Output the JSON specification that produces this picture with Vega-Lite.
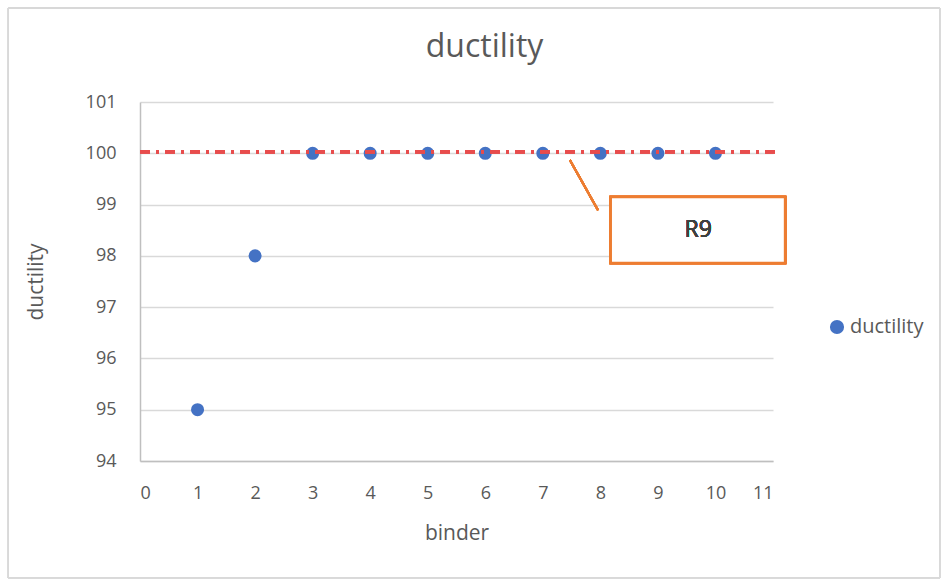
{
  "$schema": "https://vega.github.io/schema/vega-lite/v6.json",
  "width": 633,
  "height": 359,
  "autosize": {"type": "none"},
  "padding": {"left": 140, "top": 102, "right": 177, "bottom": 120},
  "background": "white",
  "config": {
    "font": "Open Sans",
    "view": {"stroke": null},
    "axis": {"labelColor": "#595959", "titleColor": "#595959", "labelFontSize": 18, "titleFontSize": 21, "titleFontWeight": "normal", "labelFont": "Open Sans", "titleFont": "Open Sans"}
  },
  "title": {"text": "ductility", "fontSize": 32, "fontWeight": "normal", "color": "#595959", "font": "Open Sans", "anchor": "middle", "dx": 28, "offset": 0, "baseline": "alphabetic", "dy": 81},
  "data": {"values": [
    {"binder": 1, "ductility": 95, "series": "ductility"},
    {"binder": 2, "ductility": 98, "series": "ductility"},
    {"binder": 3, "ductility": 100, "series": "ductility"},
    {"binder": 4, "ductility": 100, "series": "ductility"},
    {"binder": 5, "ductility": 100, "series": "ductility"},
    {"binder": 6, "ductility": 100, "series": "ductility"},
    {"binder": 7, "ductility": 100, "series": "ductility"},
    {"binder": 8, "ductility": 100, "series": "ductility"},
    {"binder": 9, "ductility": 100, "series": "ductility"},
    {"binder": 10, "ductility": 100, "series": "ductility"}
  ]},
  "layer": [
    {
      "mark": {"type": "rect", "fill": null, "stroke": "#d9d9d9", "strokeWidth": 1, "clip": false},
      "encoding": {
        "x": {"datum": -2.29, "type": "quantitative"},
        "x2": {"datum": 13.9},
        "y": {"datum": 102.83, "type": "quantitative"},
        "y2": {"datum": 91.72}
      }
    },
    {
      "mark": {"type": "point", "filled": true, "opacity": 1, "size": 170},
      "encoding": {
        "x": {"field": "binder", "type": "quantitative", "title": "binder",
          "scale": {"domain": [0, 11], "nice": false, "zero": false},
          "axis": {"values": [0,1,2,3,4,5,6,7,8,9,10,11], "format": "d", "grid": false, "ticks": false, "domainColor": "#bfbfbf", "domainWidth": 1.5, "labelPadding": 23, "titlePadding": 20}},
        "y": {"field": "ductility", "type": "quantitative", "title": "ductility",
          "scale": {"domain": [94, 101], "nice": false, "zero": false},
          "axis": {"values": [94,95,96,97,98,99,100,101], "format": "d", "grid": true, "gridColor": "#d9d9d9", "gridWidth": 1.5, "ticks": false, "domainColor": "#bfbfbf", "domainWidth": 1.5, "labelPadding": 24, "titlePadding": 39}},
        "color": {"field": "series", "type": "nominal", "title": null,
          "scale": {"range": ["#4472C4"]},
          "legend": {"orient": "none", "legendX": 687, "legendY": 215, "labelFontSize": 20, "labelFont": "Open Sans", "labelColor": "#595959", "symbolSize": 200, "symbolType": "circle", "labelOffset": 3}}
      }
    },
    {
      "mark": {"type": "rule", "color": "#E84C4C", "strokeWidth": 3, "strokeDash": [10, 6, 3, 6]},
      "encoding": {
        "x": {"datum": 0, "type": "quantitative"},
        "x2": {"datum": 11.07},
        "y": {"datum": 100.03, "type": "quantitative"}
      }
    },
    {
      "mark": {"type": "rule", "color": "#ED7D31", "strokeWidth": 2},
      "encoding": {
        "x": {"datum": 7.47, "type": "quantitative"},
        "x2": {"datum": 7.96},
        "y": {"datum": 99.87, "type": "quantitative"},
        "y2": {"datum": 98.89}
      }
    },
    {
      "mark": {"type": "rect", "fill": "white", "stroke": "#ED7D31", "strokeWidth": 2.5, "clip": false},
      "encoding": {
        "x": {"datum": 8.18, "type": "quantitative"},
        "x2": {"datum": 11.21},
        "y": {"datum": 99.15, "type": "quantitative"},
        "y2": {"datum": 97.86}
      }
    },
    {
      "mark": {"type": "text", "text": "R9", "fontSize": 23, "fontWeight": "normal", "color": "#404040", "font": "Open Sans"},
      "encoding": {
        "x": {"datum": 9.7, "type": "quantitative"},
        "y": {"datum": 98.5, "type": "quantitative"}
      }
    }
  ]
}
